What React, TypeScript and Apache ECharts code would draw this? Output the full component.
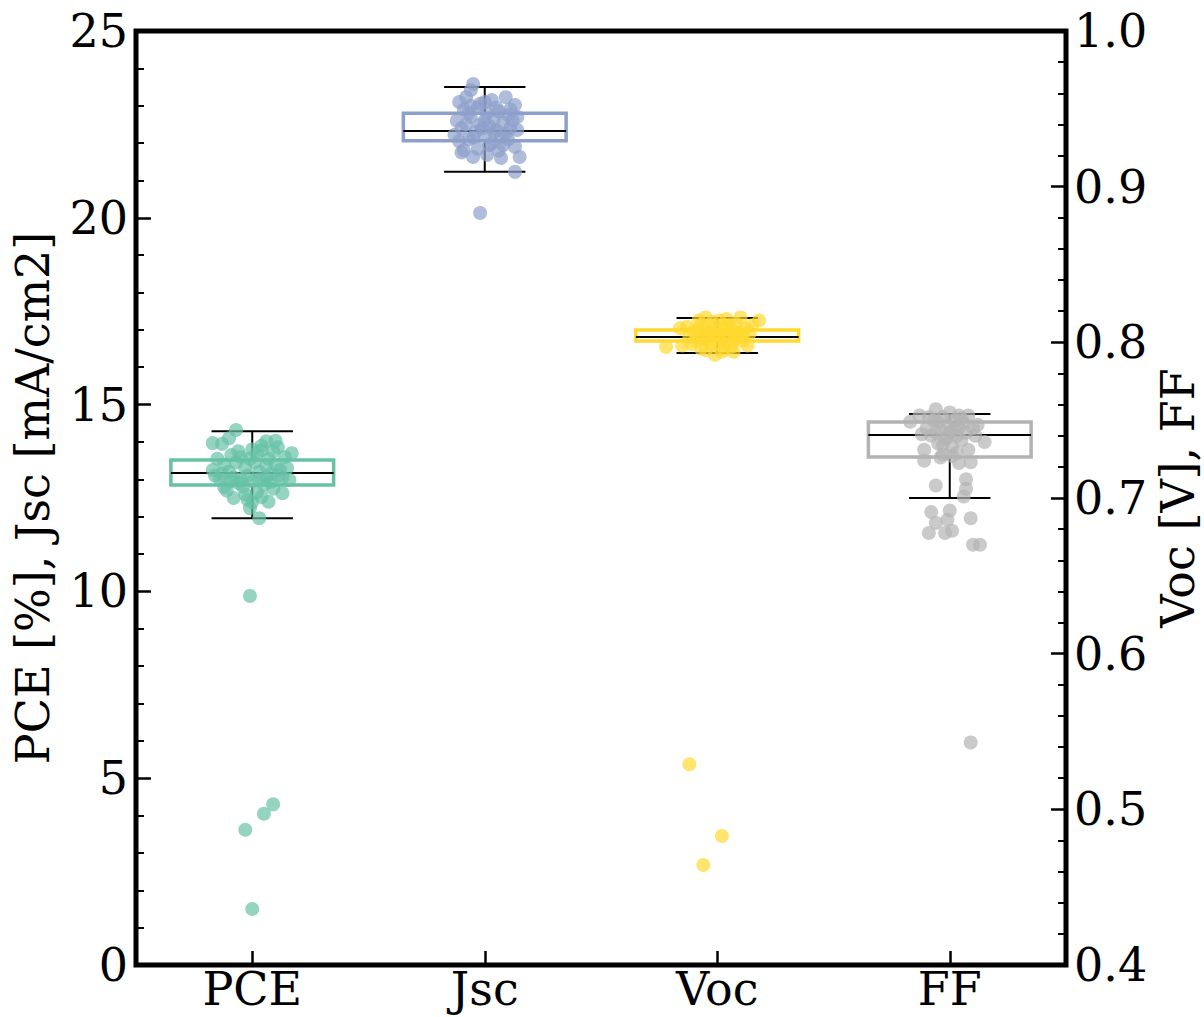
import React, { useEffect, useRef } from "react";
import * as echarts from "echarts";

const categories = ["PCE", "Jsc", "Voc", "FF"];
const colors = ["#66c2a5", "#8da0cb", "#ffd92f", "#b3b3b3"];
const leftAxisName = "PCE [%], Jsc [mA/cm2]";
const rightAxisName = "Voc [V], FF";

// box stats: [lower whisker, q1, median, q3, upper whisker]
const pceBox = [11.96, 12.85, 13.17, 13.52, 14.29];
const jscBox = [21.23, 22.06, 22.32, 22.8, 23.5];
const vocBox = [0.7931, 0.8009, 0.8034, 0.808, 0.8156];
const ffBox = [0.7, 0.7263, 0.7405, 0.7488, 0.754];

// points: [horizontal jitter (category units), value]
const pcePoints: [number, number][] = [
  [-0.07, 14.32], [-0.17, 13.97], [-0.13, 13.95], [-0.1, 14.1], [0.06, 14.02], [0.1, 14.03], [0.11, 13.86],
  [0.17, 13.7], [0.04, 13.78], [-0.17, 13.25], [0.16, 12.98], [0.13, 12.63], [-0.08, 12.5], [0.0, 12.39],
  [-0.01, 12.23], [0.03, 11.96], [0.08, 12.93], [0.04, 12.53], [-0.12, 12.79],
  [-0.15, 13.55], [-0.12, 13.4], [-0.1, 13.2], [-0.08, 13.05], [-0.06, 12.9], [-0.05, 13.6], [-0.03, 13.3],
  [-0.02, 13.1], [0.0, 12.95], [0.01, 13.45], [0.02, 13.7], [0.03, 13.2], [0.05, 12.85], [0.06, 13.35],
  [0.07, 13.55], [0.08, 13.15], [0.09, 12.75], [0.1, 13.4], [0.12, 13.25], [0.13, 13.05], [0.14, 13.6],
  [-0.14, 13.0], [-0.11, 12.7], [-0.09, 13.65], [-0.07, 13.45], [-0.04, 12.8], [-0.01, 13.55], [0.02, 12.65],
  [0.04, 13.9], [0.06, 13.05], [-0.13, 13.15], [-0.05, 13.0], [0.11, 13.1], [-0.02, 12.45], [0.07, 12.4],
  [-0.09, 12.95], [0.09, 13.75], [-0.16, 13.1], [0.15, 13.3], [0.0, 13.8], [-0.06, 13.75], [0.03, 13.0],
  [-0.03, 12.6],
  [-0.01, 9.88], [0.09, 4.3], [0.05, 4.05], [-0.03, 3.62], [0.0, 1.5],
];
const jscPoints: [number, number][] = [
  [-0.05, 23.58], [-0.06, 23.42], [-0.08, 23.23], [-0.11, 23.1], [0.09, 23.23], [0.13, 23.02], [0.0, 23.1],
  [-0.13, 22.22], [0.14, 22.35], [0.13, 21.9], [0.15, 21.63], [0.13, 21.23], [0.07, 21.6], [0.01, 21.68],
  [-0.05, 21.63], [-0.09, 21.81],
  [-0.12, 22.6], [-0.1, 22.4], [-0.09, 22.9], [-0.07, 22.1], [-0.06, 22.7], [-0.04, 22.3], [-0.03, 22.95],
  [-0.02, 22.5], [0.0, 22.2], [0.01, 22.8], [0.02, 22.45], [0.03, 22.0], [0.04, 22.65], [0.05, 22.35],
  [0.06, 22.85], [0.07, 22.15], [0.08, 22.55], [0.09, 22.25], [0.1, 22.75], [0.11, 22.4], [0.12, 22.6],
  [-0.11, 22.05], [-0.08, 22.5], [-0.05, 22.15], [-0.01, 22.4], [0.02, 21.95], [0.05, 22.95], [0.08, 21.95],
  [-0.03, 21.85], [0.1, 22.1], [-0.06, 23.0], [0.03, 23.15], [-0.1, 21.75], [0.06, 21.8], [0.0, 22.6],
  [-0.07, 22.8], [0.04, 22.3], [0.11, 22.9], [-0.02, 23.05], [0.14, 22.7],
  [-0.02, 20.13],
];
const vocPoints: [number, number][] = [
  [0.18, 0.814], [-0.22, 0.797], [-0.15, 0.798], [-0.16, 0.809], [-0.05, 0.816], [-0.01, 0.792], [0.1, 0.816],
  [0.13, 0.798],
  [-0.12, 0.804], [-0.1, 0.807], [-0.09, 0.801], [-0.07, 0.811], [-0.06, 0.803], [-0.04, 0.806], [-0.03, 0.799],
  [-0.02, 0.813], [0.0, 0.805], [0.01, 0.802], [0.02, 0.808], [0.03, 0.796], [0.04, 0.81], [0.05, 0.804],
  [0.06, 0.8], [0.07, 0.807], [0.08, 0.812], [0.09, 0.803], [0.1, 0.806], [0.11, 0.801], [0.12, 0.809],
  [-0.13, 0.81], [-0.11, 0.799], [-0.08, 0.814], [-0.05, 0.795], [-0.01, 0.81], [0.02, 0.794], [0.04, 0.815],
  [0.06, 0.797], [0.08, 0.805], [-0.02, 0.805], [0.0, 0.799], [0.03, 0.803], [-0.06, 0.808], [0.14, 0.806],
  [0.07, 0.794], [-0.09, 0.806], [0.05, 0.811], [-0.04, 0.802], [0.01, 0.814], [0.11, 0.804], [-0.07, 0.796],
  [0.15, 0.811],
  [-0.12, 0.529], [0.02, 0.4829], [-0.06, 0.4642],
];
const ffPoints: [number, number][] = [
  [-0.17, 0.749], [-0.13, 0.753], [-0.06, 0.757], [0.04, 0.753], [0.08, 0.753], [0.12, 0.747], [0.15, 0.736],
  [-0.11, 0.731], [-0.11, 0.724], [-0.03, 0.728], [0.04, 0.7225], [0.09, 0.723], [-0.06, 0.708], [0.07, 0.712],
  [0.07, 0.706], [0.06, 0.701], [-0.08, 0.691], [0.0, 0.692], [-0.01, 0.686], [0.09, 0.687], [-0.06, 0.684],
  [0.01, 0.679], [-0.09, 0.6775], [-0.02, 0.6775], [0.1, 0.67], [0.13, 0.67],
  [-0.1, 0.745], [-0.08, 0.74], [-0.07, 0.75], [-0.05, 0.735], [-0.04, 0.744], [-0.03, 0.752], [-0.02, 0.738],
  [-0.01, 0.747], [0.0, 0.742], [0.01, 0.733], [0.02, 0.75], [0.03, 0.74], [0.04, 0.745], [0.05, 0.737],
  [0.06, 0.748], [0.07, 0.742], [0.08, 0.731], [-0.09, 0.752], [-0.06, 0.742], [-0.03, 0.734], [0.0, 0.755],
  [0.02, 0.744], [-0.05, 0.749], [0.03, 0.729], [0.05, 0.751], [-0.01, 0.739], [0.1, 0.745], [-0.12, 0.741],
  [0.01, 0.727], [-0.04, 0.726], [0.11, 0.74],
  [0.09, 0.543],
];

const FONT = "DejaVu Serif";
const BOX_HALF = 0.35;
const CAP_HALF = 0.175;

function renderBox(params: any, api: any) {
  const x = api.value(0);
  const lo = api.value(1);
  const q1 = api.value(2);
  const med = api.value(3);
  const q3 = api.value(4);
  const hi = api.value(5);
  const color = colors[x];
  const pL = api.coord([x - BOX_HALF, q3]);
  const pR = api.coord([x + BOX_HALF, q1]);
  const pLo = api.coord([x, lo]);
  const pHi = api.coord([x, hi]);
  const pMed = api.coord([x, med]);
  const cl = api.coord([x - CAP_HALF, lo])[0];
  const cr = api.coord([x + CAP_HALF, lo])[0];
  const black = { stroke: "#000", lineWidth: 2 };
  return {
    type: "group",
    children: [
      { type: "line", shape: { x1: pLo[0], y1: pR[1], x2: pLo[0], y2: pLo[1] }, style: black },
      { type: "line", shape: { x1: pHi[0], y1: pL[1], x2: pHi[0], y2: pHi[1] }, style: black },
      { type: "line", shape: { x1: cl, y1: pLo[1], x2: cr, y2: pLo[1] }, style: black },
      { type: "line", shape: { x1: cl, y1: pHi[1], x2: cr, y2: pHi[1] }, style: black },
      {
        type: "rect",
        shape: { x: pL[0], y: pL[1], width: pR[0] - pL[0], height: pR[1] - pL[1] },
        style: { fill: "rgba(255,255,255,0)", stroke: color, lineWidth: 3.5 },
      },
      { type: "line", shape: { x1: pL[0], y1: pMed[1], x2: pR[0], y2: pMed[1] }, style: black },
    ],
  };
}

function scatterSeries(idx: number, pts: [number, number][], yAxisIndex: number) {
  return {
    type: "scatter",
    xAxisIndex: 1,
    yAxisIndex,
    symbolSize: 14,
    z: 5,
    itemStyle: { color: colors[idx], opacity: 0.7 },
    data: pts.map(([dx, v]) => [idx + dx, v]),
  };
}

export default function App() {
  const ref = useRef<HTMLDivElement>(null);
  useEffect(() => {
    if (!ref.current) return;
    const chart = echarts.init(ref.current, undefined, { renderer: "svg" });
    const labelStyle = { color: "#000", fontFamily: FONT, fontSize: 46 };
    chart.setOption({
      animation: false,
      backgroundColor: "#fff",
      grid: {
        left: 136,
        right: 138,
        top: 31,
        bottom: 52,
        show: true,
        borderColor: "#000",
        borderWidth: 5,
        backgroundColor: "transparent",
        containLabel: false,
        outerBoundsMode: "none",
      },
      xAxis: [
        {
          type: "category",
          data: categories,
          boundaryGap: true,
          axisLine: { show: false, onZero: false },
          axisTick: { show: true, inside: true, alignWithLabel: true, length: 14, lineStyle: { color: "#000", width: 2.5 } },
          axisLabel: { ...labelStyle, margin: 2, lineHeight: 44 },
          splitLine: { show: false },
        },
        { type: "value", min: -0.5, max: 3.5, show: false, axisLine: { onZero: false } },
      ],
      yAxis: [
        {
          type: "value",
          min: 0,
          max: 25,
          interval: 5,
          position: "left",
          name: leftAxisName,
          nameLocation: "middle",
          nameRotate: 90,
          nameGap: 80,
          nameTextStyle: { ...labelStyle },
          axisLine: { show: false, onZero: false },
          axisTick: { show: true, inside: true, length: 15, lineStyle: { color: "#000", width: 2.5 } },
          minorTick: { show: true, splitNumber: 5, length: 8, lineStyle: { color: "#000", width: 2 } },
          axisLabel: { ...labelStyle, margin: 8 },
          splitLine: { show: false },
          minorSplitLine: { show: false },
        },
        {
          type: "value",
          min: 0.4,
          max: 1.0,
          interval: 0.1,
          position: "right",
          name: rightAxisName,
          nameLocation: "middle",
          nameRotate: 90,
          nameGap: 89,
          nameMoveOverlap: false,
          nameTextStyle: { ...labelStyle },
          axisLine: { show: false, onZero: false },
          axisTick: { show: true, inside: true, length: 15, lineStyle: { color: "#000", width: 2.5 } },
          minorTick: { show: true, splitNumber: 5, length: 8, lineStyle: { color: "#000", width: 2 } },
          axisLabel: { ...labelStyle, margin: 8, formatter: (v: number) => v.toFixed(1) },
          splitLine: { show: false },
          minorSplitLine: { show: false },
        },
      ],
      series: [
        {
          type: "custom",
          xAxisIndex: 1,
          yAxisIndex: 0,
          z: 2,
          renderItem: renderBox,
          encode: { x: 0, y: [1, 2, 3, 4, 5] },
          data: [[0, ...pceBox], [1, ...jscBox]],
        },
        {
          type: "custom",
          xAxisIndex: 1,
          yAxisIndex: 1,
          z: 2,
          renderItem: renderBox,
          encode: { x: 0, y: [1, 2, 3, 4, 5] },
          data: [[2, ...vocBox], [3, ...ffBox]],
        },
        scatterSeries(0, pcePoints, 0),
        scatterSeries(1, jscPoints, 0),
        scatterSeries(2, vocPoints, 1),
        scatterSeries(3, ffPoints, 1),
      ],
    });
    return () => chart.dispose();
  }, []);
  return (
    <div
      ref={ref}
      style={{ position: "absolute", left: 0, top: 0, width: 1204, height: 1017, background: "#fff" }}
    />
  );
}
